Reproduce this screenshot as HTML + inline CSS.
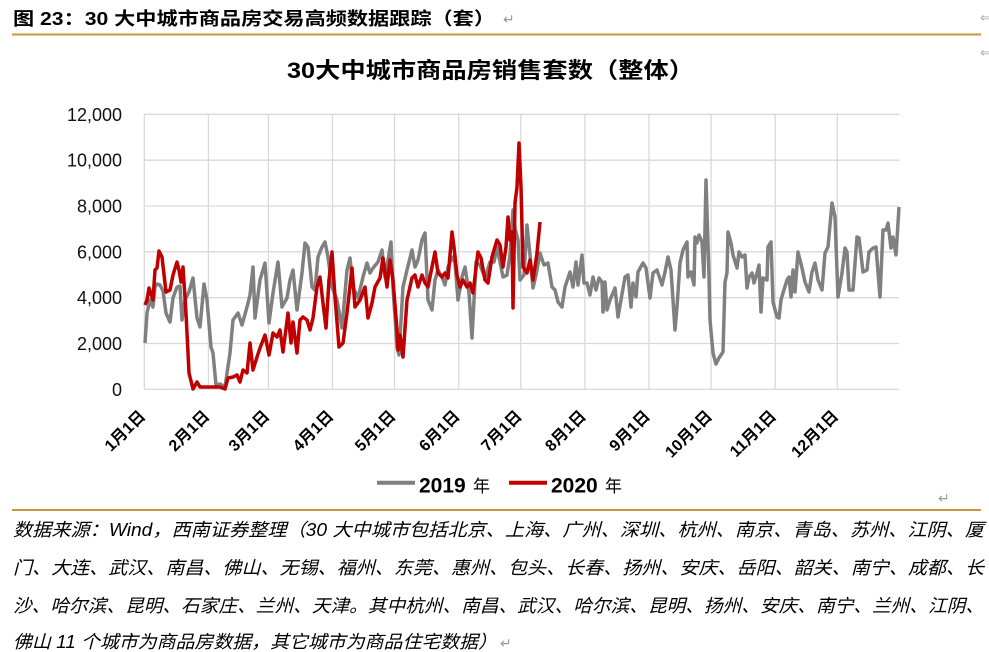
<!DOCTYPE html>
<html><head><meta charset="utf-8"><style>
html,body{margin:0;padding:0;background:#fff;}
svg{display:block;}
</style></head><body>
<svg width="989" height="652" viewBox="0 0 989 652" xmlns="http://www.w3.org/2000/svg">
<rect width="989" height="652" fill="#fff"/>
<!-- header -->
<text x="13" y="25" font-family="Liberation Sans, Noto Sans CJK SC, sans-serif" font-weight="bold" font-size="18" textLength="482" lengthAdjust="spacingAndGlyphs" fill="#000">图 23：30 大中城市商品房交易高频数据跟踪（套）</text>
<text x="503" y="24" font-family="DejaVu Sans, sans-serif" font-size="14" fill="#999">↵</text>
<text x="980" y="22" font-family="DejaVu Sans, sans-serif" font-size="13" fill="#aaa">⇐</text>
<text x="980" y="57" font-family="DejaVu Sans, sans-serif" font-size="13" fill="#aaa">⇐</text>
<rect x="12" y="33.5" width="969" height="2" fill="#C8963E"/>
<!-- title -->
<text x="287" y="78" font-family="Liberation Sans, Noto Sans CJK SC, sans-serif" font-weight="bold" font-size="22" textLength="407" lengthAdjust="spacingAndGlyphs" fill="#000">30大中城市商品房销售套数（整体）</text>
<!-- grid -->
<g stroke="#d9d9d9" stroke-width="1.3" fill="none">
<line x1="144.3" y1="114.3" x2="899.3" y2="114.3"/>
<line x1="144.3" y1="160.2" x2="899.3" y2="160.2"/>
<line x1="144.3" y1="206" x2="899.3" y2="206"/>
<line x1="144.3" y1="251.8" x2="899.3" y2="251.8"/>
<line x1="144.3" y1="297.7" x2="899.3" y2="297.7"/>
<line x1="144.3" y1="343.5" x2="899.3" y2="343.5"/>
<line x1="144.3" y1="389.3" x2="899.3" y2="389.3"/>
<line x1="144.3" y1="114.3" x2="144.3" y2="389.3"/>
<line x1="208.4" y1="114.3" x2="208.4" y2="389.3"/>
<line x1="268.4" y1="114.3" x2="268.4" y2="389.3"/>
<line x1="332.5" y1="114.3" x2="332.5" y2="389.3"/>
<line x1="394.6" y1="114.3" x2="394.6" y2="389.3"/>
<line x1="458.7" y1="114.3" x2="458.7" y2="389.3"/>
<line x1="520.8" y1="114.3" x2="520.8" y2="389.3"/>
<line x1="584.9" y1="114.3" x2="584.9" y2="389.3"/>
<line x1="649.0" y1="114.3" x2="649.0" y2="389.3"/>
<line x1="711.1" y1="114.3" x2="711.1" y2="389.3"/>
<line x1="775.2" y1="114.3" x2="775.2" y2="389.3"/>
<line x1="837.3" y1="114.3" x2="837.3" y2="389.3"/>
</g>
<!-- y labels -->
<g font-family="Liberation Sans, sans-serif" font-size="18" fill="#111" text-anchor="end">
<text x="122" y="120.8">12,000</text>
<text x="122" y="166.7">10,000</text>
<text x="122" y="212.5">8,000</text>
<text x="122" y="258.3">6,000</text>
<text x="122" y="304.2">4,000</text>
<text x="122" y="350">2,000</text>
<text x="122" y="395.8">0</text>
</g>
<!-- x labels -->
<g font-family="Liberation Sans, Noto Sans CJK SC, sans-serif" font-weight="bold" font-size="16" fill="#000" text-anchor="end">
<text transform="translate(146.3,417) rotate(-45)">1月1日</text>
<text transform="translate(210.4,417) rotate(-45)">2月1日</text>
<text transform="translate(270.4,417) rotate(-45)">3月1日</text>
<text transform="translate(334.5,417) rotate(-45)">4月1日</text>
<text transform="translate(396.6,417) rotate(-45)">5月1日</text>
<text transform="translate(460.7,417) rotate(-45)">6月1日</text>
<text transform="translate(522.8,417) rotate(-45)">7月1日</text>
<text transform="translate(586.9,417) rotate(-45)">8月1日</text>
<text transform="translate(651.0,417) rotate(-45)">9月1日</text>
<text transform="translate(713.1,417) rotate(-45)">10月1日</text>
<text transform="translate(777.2,417) rotate(-45)">11月1日</text>
<text transform="translate(839.3,417) rotate(-45)">12月1日</text>
</g>
<!-- 2019 gray -->
<polyline fill="none" stroke="#808080" stroke-width="3.5" stroke-linejoin="round" points="145,343 147,313 150,300 153,307 155,287 157,284 160,285 163,291 166,313 170,322 173,298 177,287 180,286 182,320 185,300 189,292 193,278 197,318 200,327 204,284 207,300 211,347 213,353 216,385 220,384 225,387 230,353 233,320 238,313 242,325 247,307 250,295 253,267 255,318 260,280 265,263 269,323 273,293 278,262 282,307 287,298 290,280 293,270 297,310 302,273 305,243 308,247 312,287 315,290 318,257 322,247 325,242 328,257 332,287 337,300 342,328 347,270 350,258 353,287 358,298 363,277 367,263 370,273 373,268 378,262 382,250 385,277 388,260 391,242 393,287 397,347 399,355 403,287 407,270 412,250 415,267 418,260 422,240 425,233 428,300 432,310 435,280 438,270 442,277 445,285 448,267 452,257 455,263 458,300 462,277 465,267 469,293 472,338 476,262 480,265 485,278 490,262 494,262 497,247 500,262 503,277 507,275 510,255 513,210 515,228 518,240 520,280 524,275 527,225 530,255 533,288 536,275 540,253 544,265 548,263 552,287 555,290 558,302 562,307 565,287 570,272 573,287 576,262 578,285 582,255 584,283 587,283 590,295 593,277 596,290 599,278 602,282 603,312 605,282 607,310 610,300 615,288 618,317 621,300 625,277 628,275 631,307 633,283 636,297 638,272 643,263 646,268 650,298 653,273 657,270 662,285 665,272 668,257 671,270 675,330 677,307 680,263 683,250 687,242 688,277 691,272 694,285 695,237 697,243 699,235 702,242 704,277 706,180 709,277 710,320 713,353 716,364 719,358 723,352 725,282 727,273 728,232 731,243 733,255 737,268 739,252 742,257 745,255 747,288 749,277 752,273 754,283 757,273 759,265 761,312 763,278 767,280 768,247 771,242 773,302 777,317 779,318 781,300 783,293 787,280 789,277 791,297 793,270 795,292 798,252 802,268 805,282 809,292 812,272 815,263 818,280 822,290 825,253 828,247 832,203 835,217 838,297 842,273 845,248 847,252 849,290 853,290 857,237 859,238 863,272 867,270 869,252 873,248 876,247 880,297 883,230 886,230 888,223 891,248 893,237 896,255 899,207"/>
<!-- 2020 red -->
<polyline fill="none" stroke="#C00000" stroke-width="3.5" stroke-linejoin="round" points="145,305 147,300 149,288 153,300 155,270 157,268 159,251 162,257 166,292 170,290 173,275 177,262 179,270 181,282 183,267 186,313 189,373 193,389 197,382 200,387 207,387 220,387 225,389 228,378 233,377 237,375 240,382 243,370 247,373 250,343 253,370 257,357 260,348 265,335 269,355 273,333 277,337 280,330 283,352 288,313 291,343 293,322 297,353 300,320 303,317 307,320 310,330 313,318 317,287 320,277 323,303 326,328 329,280 332,252 335,297 339,347 343,343 347,313 352,268 355,307 360,300 365,287 368,318 372,303 375,287 380,278 383,258 387,287 390,260 393,280 397,330 398,350 400,335 403,357 407,300 412,278 415,275 418,287 422,275 425,283 428,287 432,267 435,252 438,273 442,277 445,273 448,278 452,232 454,247 457,275 460,287 463,280 467,287 470,283 473,293 478,252 481,258 485,280 488,283 492,257 497,240 500,245 503,267 506,247 508,217 510,240 512,232 513,308 515,203 517,187 519,143 521,187 523,267 527,273 530,260 533,280 537,253 540,222"/>
<!-- legend -->
<line x1="377" y1="482.7" x2="415" y2="482.7" stroke="#808080" stroke-width="4"/>
<text x="419" y="492.5" font-family="Liberation Sans, sans-serif" font-weight="bold" font-size="21" fill="#000">2019</text>
<text x="473" y="492" font-family="Noto Sans CJK SC, sans-serif" font-size="17" fill="#000">年</text>
<line x1="509" y1="482.7" x2="547" y2="482.7" stroke="#C00000" stroke-width="4"/>
<text x="551" y="492.5" font-family="Liberation Sans, sans-serif" font-weight="bold" font-size="21" fill="#000">2020</text>
<text x="605" y="492" font-family="Noto Sans CJK SC, sans-serif" font-size="17" fill="#000">年</text>
<text x="938" y="503" font-family="DejaVu Sans, sans-serif" font-size="14" fill="#999">↵</text>
<rect x="12" y="509" width="969" height="2" fill="#C8963E"/>
<!-- footer -->
<g font-family="Liberation Sans, Noto Sans CJK SC, sans-serif" font-size="18" font-style="italic" fill="#000">
<text x="13" y="536" textLength="971" lengthAdjust="spacingAndGlyphs">数据来源：Wind，西南证券整理（30 大中城市包括北京、上海、广州、深圳、杭州、南京、青岛、苏州、江阴、厦</text>
<text x="13" y="574" textLength="971" lengthAdjust="spacingAndGlyphs">门、大连、武汉、南昌、佛山、无锡、福州、东莞、惠州、包头、长春、扬州、安庆、岳阳、韶关、南宁、成都、长</text>
<text x="13" y="612" textLength="971" lengthAdjust="spacingAndGlyphs">沙、哈尔滨、昆明、石家庄、兰州、天津。其中杭州、南昌、武汉、哈尔滨、昆明、扬州、安庆、南宁、兰州、江阴、</text>
<text x="13" y="648" textLength="484" lengthAdjust="spacingAndGlyphs">佛山 11 个城市为商品房数据，其它城市为商品住宅数据）</text>
</g>
<text x="500" y="648" font-family="DejaVu Sans, sans-serif" font-size="14" fill="#999">↵</text>
</svg>
</body></html>
